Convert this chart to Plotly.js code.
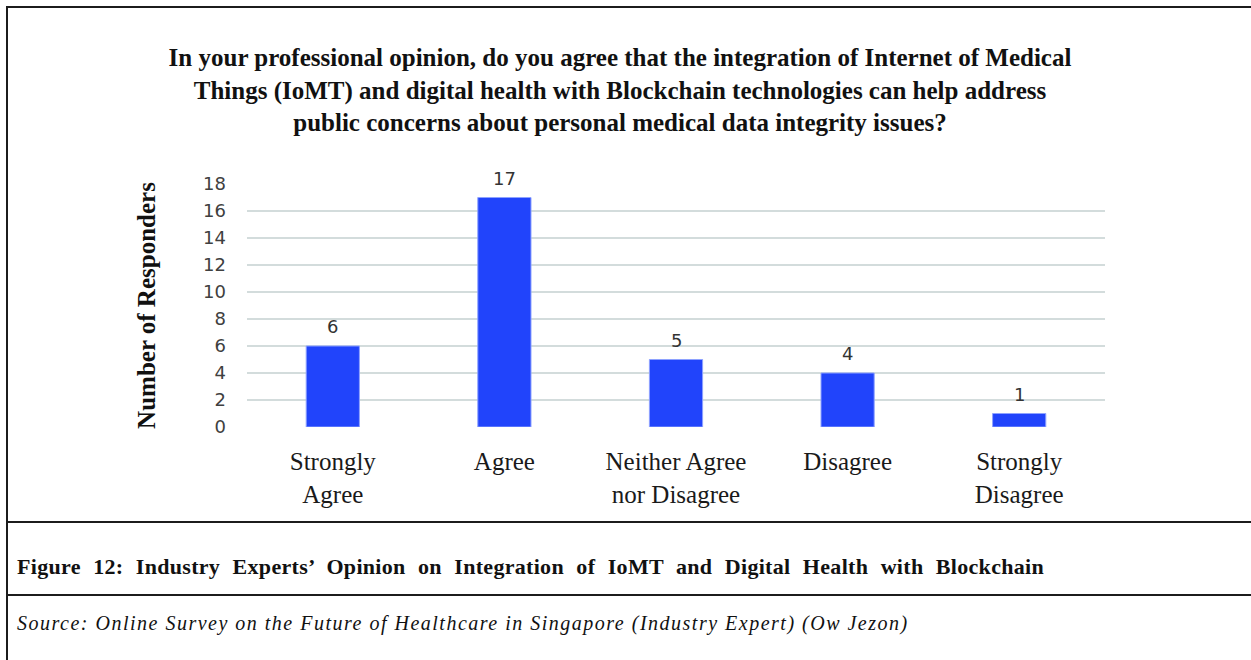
<!DOCTYPE html>
<html>
<head>
<meta charset="utf-8">
<script src="https://cdn.plot.ly/plotly-3.0.1.min.js"></script>
<style>
  html, body { margin: 0; padding: 0; background: #ffffff; }
  #page { position: relative; width: 1251px; height: 660px; overflow: hidden; }
  #chart { position: absolute; left: 0; top: 0; width: 1251px; height: 660px; }
  .rule { position: absolute; background: #1c1c1c; }
  .caption {
    position: absolute; left: 17px; color: #111;
    font-family: "Liberation Serif", "Times New Roman", serif;
    line-height: 1; white-space: nowrap;
  }
  #figcap {
    top: 556px; width: 1027px; font-size: 22px; font-weight: bold; letter-spacing: 0.3px;
    text-align: justify; text-align-last: justify;
  }
  #source {
    top: 613px; font-size: 20px; font-style: italic; letter-spacing: 1.5px;
  }
</style>
</head>
<body>
<div id="page">
  <div id="chart"></div>
  <!-- frame rules -->
  <div class="rule" style="left:6px; top:6px; width:2px; height:654px;"></div>
  <div class="rule" style="left:6px; top:6px; width:1245px; height:2px;"></div>
  <div class="rule" style="left:6px; top:521px; width:1245px; height:2px;"></div>
  <div class="rule" style="left:6px; top:594px; width:1245px; height:2px;"></div>
  <div class="caption" id="figcap">Figure 12: Industry Experts’ Opinion on Integration of IoMT and Digital Health with Blockchain</div>
  <div class="caption" id="source">Source: Online Survey on the Future of Healthcare in Singapore (Industry Expert) (Ow Jezon)</div>
</div>
<script>
// Survey responses
const categories = ["Strongly Agree", "Agree", "Neither Agree nor Disagree", "Disagree", "Strongly Disagree"];
const categoryLabels = ["Strongly<br>Agree", "Agree", "Neither Agree<br>nor Disagree", "Disagree", "Strongly<br>Disagree"];
const responders = [6, 17, 5, 4, 1];
const yTicks = [0, 2, 4, 6, 8, 10, 12, 14, 16, 18];

const titleText = "In your professional opinion, do you agree that the integration of Internet of Medical<br>" +
  "Things (IoMT) and digital health with Blockchain technologies can help address<br>" +
  "public concerns about personal medical data integrity issues?";

const serif = '"Liberation Serif", "Times New Roman", serif';
const sans = '"DejaVu Sans", Verdana, sans-serif';

const bars = {
  type: "bar",
  x: categories,
  y: responders,
  marker: { color: "#2144fb", line: { color: "#8ea2ff", width: 1 } },
  hoverinfo: "x+y",
  cliponaxis: false
};

// value labels sitting above each bar
const valueLabels = categories.map((c, i) => ({
  x: c, y: responders[i], xref: "x", yref: "y",
  text: String(responders[i]),
  showarrow: false, yanchor: "bottom", yshift: 7,
  font: { family: sans, size: 18, color: "#333333" }
}));

const layout = {
  width: 1251, height: 660,
  margin: { l: 247, r: 146, t: 184, b: 233, pad: 0 },
  paper_bgcolor: "rgba(0,0,0,0)",
  plot_bgcolor: "rgba(0,0,0,0)",
  showlegend: false,
  bargap: 0.69,
  title: {
    text: titleText,
    x: 620 / 1251, xref: "container", xanchor: "center",
    y: 1 - 66 / 660, yref: "container", yanchor: "top",
    font: { family: serif, size: 25, weight: "bold", color: "#111111" }
  },
  xaxis: {
    type: "category",
    tickvals: categories,
    ticktext: categoryLabels,
    showgrid: false, zeroline: false, showline: false, ticks: "",
    ticklabelstandoff: 17,
    tickfont: { family: serif, size: 25, color: "#1a1a1a" },
    fixedrange: true
  },
  yaxis: {
    range: [0, 18],
    tickvals: yTicks,
    showgrid: true, gridcolor: "#d3dcdc", gridwidth: 2,
    zeroline: false, showline: false, ticks: "",
    ticklabelstandoff: 20,
    tickfont: { family: sans, size: 18, color: "#404040" },
    title: {
      text: "Number of Responders",
      standoff: 40,
      font: { family: serif, size: 25, weight: "bold", color: "#111111" }
    },
    fixedrange: true
  },
  annotations: valueLabels
};

Plotly.newPlot("chart", [bars], layout, { displayModeBar: false, staticPlot: true });
</script>
</body>
</html>
